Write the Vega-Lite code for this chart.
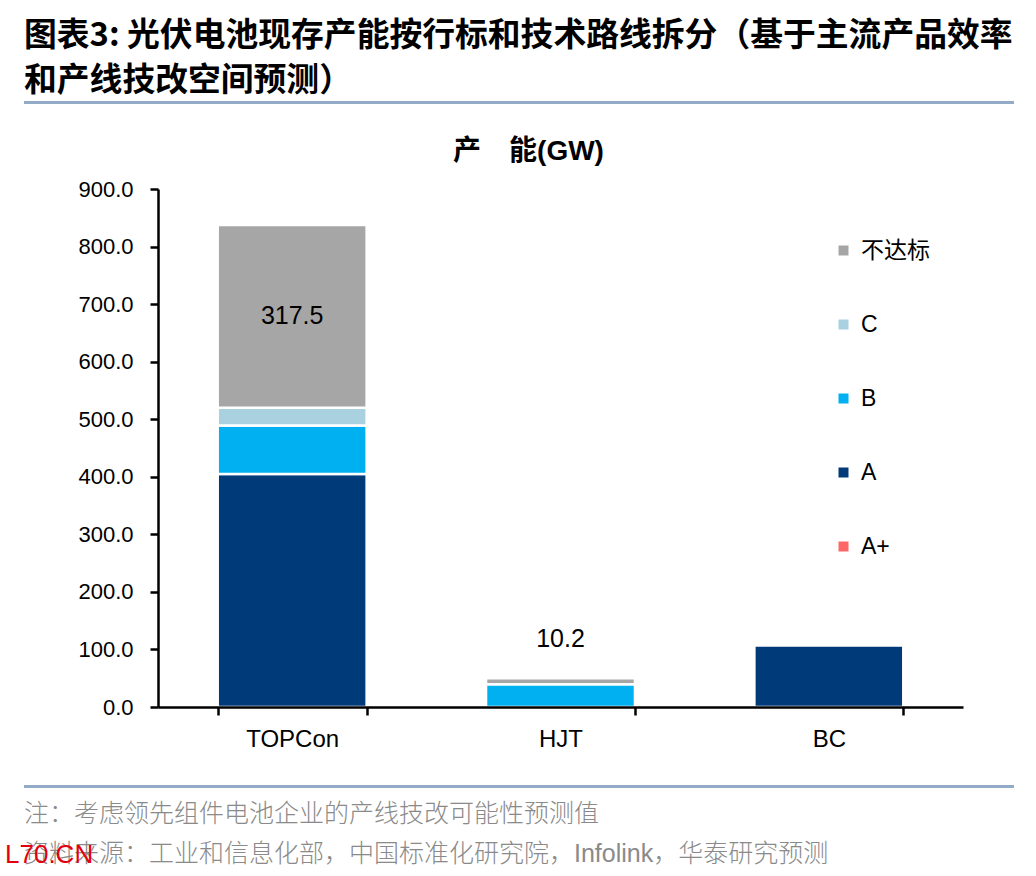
{
  "$schema": "https://vega.github.io/schema/vega-lite/v6.json",
  "padding": {"left": 5, "top": 20, "right": 10, "bottom": 6},
  "background": "white",
  "config": {
    "view": {"stroke": null},
    "font": "'Liberation Sans', 'Noto Sans CJK SC'",
    "concat": {"spacing": 0}
  },
  "title": {
    "text": "L70.CN",
    "orient": "bottom",
    "anchor": "start",
    "dx": -19,
    "offset": -25,
    "color": "#e3000f",
    "fontSize": 26,
    "fontWeight": "normal",
    "font": "'Liberation Sans'"
  },
  "vconcat": [
    {
      "title": {
        "text": ["图表3:  光伏电池现存产能按行标和技术路线拆分（基于主流产品效率", "和产线技改空间预测）"],
        "anchor": "start",
        "fontSize": 32.8,
        "lineHeight": 45,
        "fontWeight": "bold",
        "color": "#000000",
        "offset": 3,
        "font": "'Noto Sans CJK SC'"
      },
      "spacing": 34,
      "vconcat": [
        {
          "data": {"values": []},
          "mark": "point",
          "width": 990,
          "height": 3,
          "view": {"fill": "#93abc6", "stroke": null}
        },
        {
          "spacing": 0,
          "hconcat": [
            {
              "data": {"values": []},
              "mark": "point",
              "width": 1,
              "height": 1
            },
            {
              "width": 805,
              "height": 518,
              "title": {
                "text": "产　能(GW)",
                "fontSize": 28,
                "fontWeight": "bold",
                "anchor": "middle",
                "frame": "group",
                "dx": -32,
                "offset": 12,
                "color": "#000000"
              },
              "data": {
                "values": [
                  {"tech": "TOPCon", "grade": "A", "value": 405},
                  {"tech": "TOPCon", "grade": "B", "value": 84},
                  {"tech": "TOPCon", "grade": "C", "value": 31},
                  {"tech": "TOPCon", "grade": "不达标", "value": 317.5},
                  {"tech": "HJT", "grade": "B", "value": 39.6},
                  {"tech": "HJT", "grade": "不达标", "value": 10.2},
                  {"tech": "BC", "grade": "A", "value": 107}
                ]
              },
              "transform": [
                {"calculate": "indexof(['A+','A','B','C','不达标'], datum.grade)", "as": "rank"},
                {"stack": "value", "groupby": ["tech"], "sort": [{"field": "rank", "order": "ascending"}], "as": ["v0", "v1"]},
                {"calculate": "(datum.v0 + datum.v1) / 2", "as": "vmid"}
              ],
              "encoding": {
                "x": {
                  "field": "tech",
                  "type": "nominal",
                  "sort": ["TOPCon", "HJT", "BC"],
                  "scale": {"paddingInner": 0.445, "paddingOuter": 0.2225},
                  "axis": {
                    "title": null,
                    "labelAngle": 0,
                    "labelFontSize": 24,
                    "labelColor": "#000000",
                    "labelPadding": 12,
                    "tickSize": 8,
                    "tickWidth": 2.5,
                    "tickColor": "#000000",
                    "tickBand": "extent",
                    "domainColor": "#000000",
                    "domainWidth": 2.5,
                    "zindex": 1
                  }
                }
              },
              "layer": [
                {
                  "mark": {"type": "bar", "stroke": "white", "strokeWidth": 2.5},
                  "encoding": {
                    "y": {
                      "field": "v1",
                      "type": "quantitative",
                      "scale": {"domain": [0, 900]},
                      "axis": {
                        "values": [0, 100, 200, 300, 400, 500, 600, 700, 800, 900],
                        "format": ".1f",
                        "title": null,
                        "grid": false,
                        "labelFontSize": 22,
                        "labelColor": "#000000",
                        "labelPadding": 17,
                        "tickSize": 8,
                        "tickWidth": 2.5,
                        "tickColor": "#000000",
                        "domainColor": "#000000",
                        "domainWidth": 2.5,
                        "minExtent": 133,
                        "zindex": 1
                      }
                    },
                    "y2": {"field": "v0"},
                    "color": {
                      "field": "grade",
                      "type": "nominal",
                      "scale": {
                        "domain": ["不达标", "C", "B", "A", "A+"],
                        "range": ["#a6a6a6", "#a9d1e0", "#00b0f0", "#003a78", "#ff6666"]
                      },
                      "legend": {
                        "orient": "none",
                        "legendX": 808,
                        "legendY": 138,
                        "title": null,
                        "symbolType": "square",
                        "symbolSize": 100,
                        "symbolStrokeWidth": 0,
                        "labelFontSize": 23,
                        "labelColor": "#000000",
                        "labelOffset": 6,
                        "rowPadding": 50
                      }
                    }
                  }
                },
                {
                  "transform": [{"filter": "datum.tech === 'TOPCon' && datum.grade === '不达标'"}],
                  "mark": {"type": "text", "fontSize": 25, "color": "#000000"},
                  "encoding": {
                    "y": {"field": "vmid", "type": "quantitative"},
                    "text": {"field": "value", "type": "quantitative", "format": ".1f"}
                  }
                },
                {
                  "transform": [{"filter": "datum.tech === 'HJT' && datum.grade === '不达标'"}],
                  "mark": {"type": "text", "fontSize": 25, "color": "#000000", "dy": -39},
                  "encoding": {
                    "y": {"field": "v1", "type": "quantitative"},
                    "text": {"field": "value", "type": "quantitative", "format": ".1f"}
                  }
                }
              ]
            }
          ]
        },
        {
          "data": {"values": []},
          "mark": "point",
          "width": 990,
          "height": 3,
          "view": {"fill": "#93abc6", "stroke": null},
          "title": {
            "text": ["注：考虑领先组件电池企业的产线技改可能性预测值", "资料来源：工业和信息化部，中国标准化研究院，Infolink，华泰研究预测"],
            "orient": "bottom",
            "anchor": "start",
            "fontSize": 25,
            "lineHeight": 40,
            "fontWeight": 300,
            "color": "#8a8a8a",
            "offset": 14
          }
        }
      ]
    }
  ]
}
